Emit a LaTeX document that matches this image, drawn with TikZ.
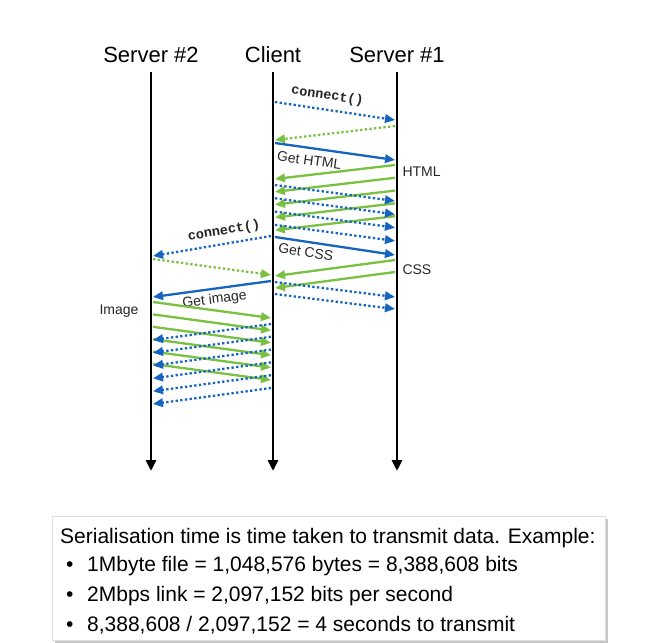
\documentclass[tikz,border=0pt]{standalone}
\usepackage{fontspec}
\setmainfont{Liberation Sans}
\setmonofont{Liberation Mono}
\usetikzlibrary{arrows.meta}
\definecolor{ablue}{RGB}{21,101,192}
\definecolor{agreen}{RGB}{122,193,66}
\begin{document}
\begin{tikzpicture}[x=1pt,y=-1pt,
  life/.style={line width=2.8pt,-{Triangle[length=11pt,width=10pt]}},
  msg/.style={line width=2.3pt,-{Triangle[length=10pt,width=8.5pt]}},
  dotline/.style={msg,dash pattern=on 2.3pt off 2.4pt},
  req/.style={msg,ablue},
  reqdot/.style={dotline,ablue},
  data/.style={msg,agreen},
  datadot/.style={dotline,agreen},
  head/.style={font=\fontsize{22}{26}\selectfont},
  lbl/.style={text=black!85,font=\fontsize{14}{16}\selectfont},
  code/.style={text=black!85,font=\ttfamily\bfseries\fontsize{13.5}{15}\selectfont},
  boxtxt/.style={font=\fontsize{21}{25}\selectfont,anchor=base west,inner sep=0pt}
]
\useasboundingbox (0,0) rectangle (646,643);

% headers
\node[head] (s2lbl) at (151,55) {Server \#2};
\node[head] (cllbl) at (273,55) {Client};
\node[head] (s1lbl) at (397,55) {Server \#1};

% lifelines
\coordinate (s2top) at (151,72); \coordinate (s2bot) at (151,471);
\coordinate (ctop) at (273,72);  \coordinate (cbot) at (273,471);
\coordinate (s1top) at (397,72); \coordinate (s1bot) at (397,471);
\draw[life] (s2top) -- (s2bot);
\draw[life] (ctop) -- (cbot);
\draw[life] (s1top) -- (s1bot);

% ---- Client <-> Server #1
\coordinate (m1a) at (275,102); \coordinate (m1b) at (395,120);
\draw[reqdot] (m1a) -- node[pos=0.42,above=3pt,sloped,code] (con1) {connect()} (m1b);
\coordinate (m2a) at (395,126); \coordinate (m2b) at (275,140);
\draw[datadot] (m2a) -- (m2b);
\coordinate (m3a) at (275,143); \coordinate (m3b) at (395,160);
\draw[req] (m3a) -- node[pos=0.3,below=3pt,sloped,lbl] (gethtml) {Get HTML} (m3b);
\node[lbl,anchor=west] (html) at (399,172) {HTML};

\foreach \k in {0,...,4} {
  \coordinate (hs\k) at (395,{165+12.8*\k});
  \coordinate (hc\k) at (275,{179+12.8*\k});
  \draw[data] (hs\k) -- (hc\k);
}
\foreach \k in {0,...,3} {
  \coordinate (ha\k) at (275,{185+13.3*\k});
  \coordinate (hb\k) at (395,{201+13.3*\k});
  \draw[reqdot] (ha\k) -- (hb\k);
}

\coordinate (m4a) at (275,237); \coordinate (m4b) at (395,255);
\draw[req] (m4a) -- node[pos=0.27,below=1pt,sloped,lbl] (getcss) {Get CSS} (m4b);
\node[lbl,anchor=west] (css) at (399,270) {CSS};

\coordinate (cs0) at (395,260); \coordinate (cc0) at (275,276);
\coordinate (cs1) at (395,272); \coordinate (cc1) at (275,288);
\draw[data] (cs0) -- (cc0);
\draw[data] (cs1) -- (cc1);
\coordinate (ca0) at (275,282); \coordinate (cb0) at (395,297);
\coordinate (ca1) at (275,294); \coordinate (cb1) at (395,309);
\draw[reqdot] (ca0) -- (cb0);
\draw[reqdot] (ca1) -- (cb1);

% ---- Client <-> Server #2
\coordinate (n1a) at (271,236); \coordinate (n1b) at (153,256);
\draw[reqdot] (n1a) -- node[pos=0.38,above=2pt,sloped,code] (con2) {connect()} (n1b);
\coordinate (n2a) at (153,259); \coordinate (n2b) at (271,275);
\draw[datadot] (n2a) -- (n2b);
\coordinate (n3a) at (271,281); \coordinate (n3b) at (153,297);
\draw[req] (n3a) -- node[pos=0.49,below=0pt,sloped,lbl] (getimg) {Get image} (n3b);
\node[lbl] (imglbl) at (119,311) {Image};

\foreach \k in {0,...,5} {
  \coordinate (is\k) at (153,{302+12.4*\k});
  \coordinate (ic\k) at (271,{318+12.4*\k});
  \draw[data] (is\k) -- (ic\k);
}
\foreach \k in {0,...,5} {
  \coordinate (ia\k) at (271,{324+12.8*\k});
  \coordinate (ib\k) at (153,{340+12.8*\k});
  \draw[reqdot] (ia\k) -- (ib\k);
}

% ---- text box
\fill[gray!45] (55,519) rectangle (608,643);
\draw[gray!25,fill=white] (52,516) rectangle (605,640);
\node[boxtxt] (t0) at (60,543) {Serialisation time is time taken to transmit data. Example:};
\node[boxtxt] (b1) at (66,571) {•};
\node[boxtxt] (t1) at (87,571) {1Mbyte file = 1,048,576 bytes = 8,388,608 bits};
\node[boxtxt] (b2) at (66,601) {•};
\node[boxtxt] (t2) at (87,601) {2Mbps link = 2,097,152 bits per second};
\node[boxtxt] (b3) at (66,631) {•};
\node[boxtxt] (t3) at (87,631) {8,388,608 / 2,097,152 = 4 seconds to transmit};
\end{tikzpicture}
\end{document}
